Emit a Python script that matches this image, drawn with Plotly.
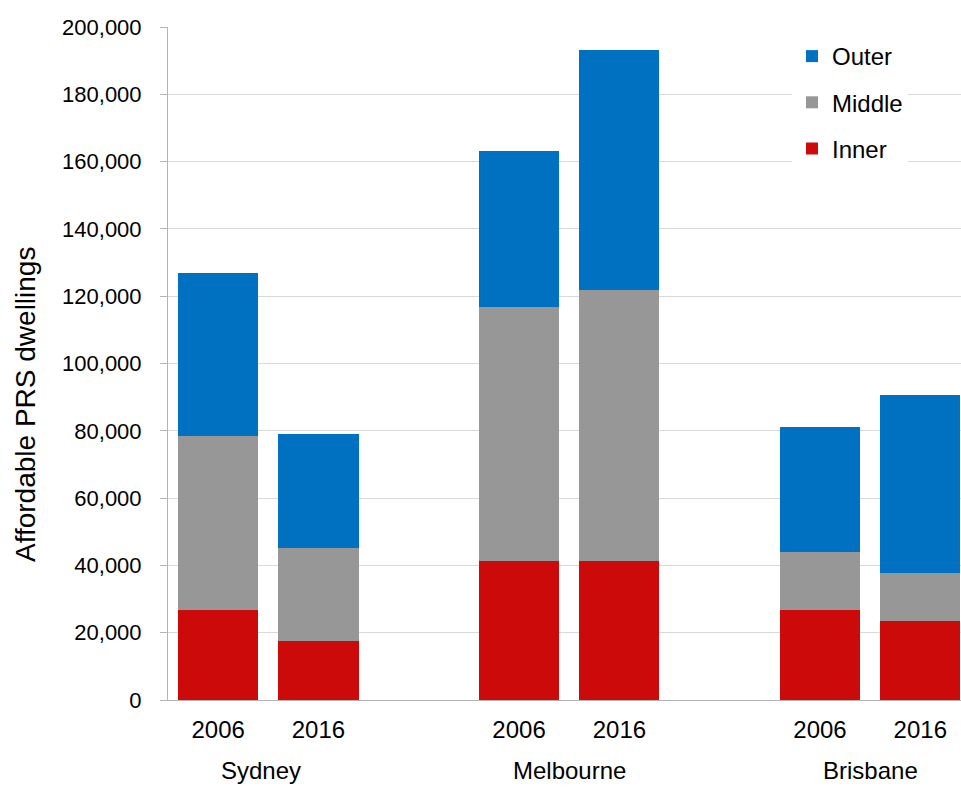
import plotly.graph_objects as go

# Affordable private-rental dwellings by ring, per city and census year
cities = ["Sydney", "Melbourne", "Brisbane"]
bar_years = ["2006", "2016", "2006", "2016", "2006", "2016"]
# category slot of each bar (an empty slot separates the cities)
slots = [0, 1, 3, 4, 6, 7]
city_slots = [0.5, 3.5, 6.5]

inner = [26700, 17400, 41200, 41200, 26700, 23500]
middle = [51800, 27800, 75700, 80600, 17200, 14300]
outer = [48300, 33800, 46200, 71400, 37200, 52900]

# stacked bottom to top; legend lists them top to bottom
series = [
    ("Inner", inner, "#CC0A0A", 3),
    ("Middle", middle, "#979797", 2),
    ("Outer", outer, "#0070C0", 1),
]

FONT = "Liberation Sans, Arial, sans-serif"
AXIS_GREY = "#B4B4B4"

fig = go.Figure()
for name, vals, color, rank in series:
    fig.add_trace(go.Bar(
        x=slots, y=vals, name=name, legendgroup=name, legendrank=rank,
        marker=dict(color=color, line=dict(width=0)),
    ))

fig.update_layout(
    barmode="stack",
    bargap=0.2,
    width=961, height=787,
    margin=dict(l=168, r=0, t=27, b=87),
    paper_bgcolor="white", plot_bgcolor="white",
    font=dict(family=FONT, color="#000000"),
    showlegend=True,
    legend=dict(
        traceorder="grouped",
        tracegroupgap=12,
        x=(792 - 168) / 793, xanchor="left",
        y=(700 - 34) / 673, yanchor="top",
        bgcolor="white",
        font=dict(size=24, family=FONT),
        itemwidth=30,
    ),
)

fig.update_xaxes(
    range=[-0.5, 7.406],
    tickvals=slots, ticktext=bar_years,
    tickfont=dict(size=24),
    ticks="", showgrid=False,
    showline=True, linecolor=AXIS_GREY, linewidth=1,
    ticklabelstandoff=8,
    zeroline=False,
)
fig.update_yaxes(
    range=[0, 200000], dtick=20000, tickformat=",",
    tickfont=dict(size=22),
    gridcolor="#D9D9D9", gridwidth=1,
    showline=True, linecolor=AXIS_GREY, linewidth=1,
    ticks="outside", ticklen=7, tickcolor=AXIS_GREY,
    ticklabelstandoff=14,
    zeroline=False,
)

# City names beneath each pair of years
for city, cx in zip(cities, city_slots):
    fig.add_annotation(
        x=cx, xref="x", y=(700 - 770) / 673, yref="paper",
        text=city, showarrow=False,
        xshift=-7 if city == "Sydney" else 0,
        font=dict(size=24, family=FONT),
        xanchor="center", yanchor="middle",
    )

# Vertical axis title
fig.add_annotation(
    x=(25 - 168) / 793, xref="paper", y=(700 - 405) / 673, yref="paper",
    text="Affordable PRS dwellings", textangle=-90, showarrow=False,
    font=dict(size=28, family=FONT),
    xanchor="center", yanchor="middle",
)

fig.write_html("out.html")
